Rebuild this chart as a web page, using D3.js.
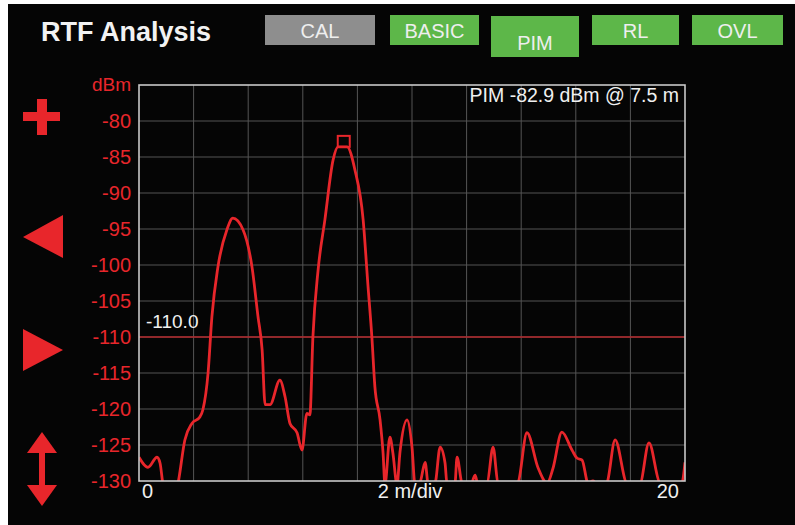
<!DOCTYPE html>
<html>
<head>
<meta charset="utf-8">
<script src="https://cdn.jsdelivr.net/npm/d3@7"></script>
<style>
  body { margin: 0; background: #fff; }
  svg { display: block; font-family: Arial, "Liberation Sans", sans-serif; }
</style>
</head>
<body>
<div id="chart-area"></div>
<script>
// distance to fault (m) and PIM level (dBm)
var distance = [0.00, 0.33, 0.66, 0.77, 0.88, 1.14, 1.43, 1.68, 1.94, 2.23, 2.34, 2.53, 2.67, 2.89, 3.22, 3.44,
  3.81, 4.14, 4.36, 4.51, 4.62, 4.80, 5.16, 5.35, 5.53, 5.79, 5.97, 6.15, 6.26, 6.37, 6.56, 6.81, 7.11, 7.29,
  7.62, 7.91, 8.21, 8.39, 8.53, 8.64, 8.83, 8.94, 9.01, 9.19, 9.30, 9.45, 9.56, 9.82, 10.00, 10.11, 10.29,
  10.48, 10.59, 10.84, 11.03, 11.21, 11.28, 11.57, 11.65, 11.83, 12.12, 12.31, 12.42, 12.75, 12.97, 13.15,
  13.59, 13.88, 14.21, 14.62, 14.95, 15.16, 15.49, 15.86, 16.04, 16.23, 16.45, 16.63, 16.89, 17.14, 17.44,
  17.88, 18.35, 18.68, 19.08, 19.63, 19.89, 20.00];
var level = [-126.7, -128.1, -126.7, -127.5, -130.5, -133, -130.3, -124.3, -122, -121.1, -120.1, -115, -107.2, -100.3, -95.1, -93.5,
  -95.1, -100.3, -107.2, -111.8, -119.4, -119.4, -116, -118.3, -122, -123.3, -125.7, -120.6, -120.8, -110, -100.7, -93.7, -85.4, -83.6,
  -83.6, -86.8, -93.7, -103, -110, -116.9, -121.5, -126.1, -130.5, -123.9, -126.1, -130.5, -126, -121.5, -125.3, -130.5, -130.2,
  -127.4, -130.3, -130.3, -125.3, -127.5, -130.3, -130.5, -126.7, -130.3, -131, -129.2, -130.5, -130.3, -125.3, -130.3,
  -131, -130.3, -123.3, -128.2, -130.3, -128.3, -123.2, -125.7, -126.8, -127.1, -130.3, -130, -131, -130.3, -124.3,
  -130.3, -130.3, -124.7, -130.3, -131, -130.3, -127.4];

var yTicks = [-80, -85, -90, -95, -100, -105, -110, -115, -120, -125, -130];
var xTicks = [0, 2, 4, 6, 8, 10, 12, 14, 16, 18, 20];
var limit = -110.0;
var peak = { distance: 7.5, level: -82.9 };

var buttons = ["CAL", "BASIC", "PIM", "RL", "OVL"];
var buttonOn = [false, true, true, true, true];
var buttonX = [265, 390, 491, 592, 692];
var buttonW = [110, 89, 88, 87, 91];

var width = 795, height = 525;
var red = "#e8262b";

var svg = d3.select("#chart-area")
  .append("svg")
  .attr("width", width)
  .attr("height", height);

// instrument screen
svg.append("rect")
  .attr("x", 8).attr("y", 4)
  .attr("width", width - 8).attr("height", height - 4)
  .attr("fill", "#050505");

svg.append("text")
  .attr("x", 41).attr("y", 41)
  .attr("fill", "#f2f2f2")
  .attr("font-size", 27)
  .attr("font-weight", "bold")
  .text("RTF Analysis");

// mode buttons
var btn = svg.selectAll("g.btn")
  .data(buttons)
  .enter()
  .append("g")
  .attr("class", "btn");

btn.append("rect")
  .attr("x", function(d, i) { return buttonX[i]; })
  .attr("y", function(d) { return d == "PIM" ? 16 : 15; })
  .attr("width", function(d, i) { return buttonW[i]; })
  .attr("height", function(d) { return d == "PIM" ? 41 : 30; })
  .attr("fill", function(d, i) { return buttonOn[i] ? "#5db749" : "#8e8e8e"; });

btn.append("text")
  .attr("x", function(d, i) { return buttonX[i] + buttonW[i] / 2; })
  .attr("y", function(d) { return d == "PIM" ? 50 : 38; })
  .attr("text-anchor", "middle")
  .attr("fill", "#eeeeee")
  .attr("font-size", 20)
  .text(function(d) { return d; });

// plot area
var x = d3.scaleLinear().domain([0, 20]).range([139, 685]);
var y = d3.scaleLinear().domain([-130, -75]).range([481, 85]);

svg.append("clipPath")
  .attr("id", "clip")
  .append("rect")
  .attr("x", 139).attr("y", 85)
  .attr("width", 546).attr("height", 396);

svg.append("g")
  .selectAll("line")
  .data(yTicks.slice(0, -1))
  .enter()
  .append("line")
  .attr("x1", x(0)).attr("x2", x(20))
  .attr("y1", function(d) { return y(d); })
  .attr("y2", function(d) { return y(d); })
  .attr("stroke", "#555555")
  .attr("stroke-width", 1);

svg.append("g")
  .selectAll("line")
  .data(xTicks.slice(1, -1))
  .enter()
  .append("line")
  .attr("x1", function(d) { return x(d); })
  .attr("x2", function(d) { return x(d); })
  .attr("y1", y(-75)).attr("y2", y(-130))
  .attr("stroke", "#555555")
  .attr("stroke-width", 1);

// y labels
svg.append("g")
  .selectAll("text")
  .data(yTicks)
  .enter()
  .append("text")
  .attr("x", 131)
  .attr("y", function(d) { return y(d); })
  .attr("dy", "0.36em")
  .attr("text-anchor", "end")
  .attr("fill", red)
  .attr("font-size", 20)
  .text(function(d) { return d; });

svg.append("text")
  .attr("x", 131).attr("y", 91)
  .attr("text-anchor", "end")
  .attr("fill", red)
  .attr("font-size", 19)
  .text("dBm");

// limit line
svg.append("line")
  .attr("x1", x(0)).attr("x2", x(20))
  .attr("y1", y(limit)).attr("y2", y(limit))
  .attr("stroke", "#b3272b")
  .attr("stroke-width", 1.6);

svg.append("text")
  .attr("x", 146).attr("y", y(limit) - 9)
  .attr("fill", "#f0f0f0")
  .attr("font-size", 19)
  .text(limit.toFixed(1));

// trace
var line = d3.line()
  .x(function(d, i) { return x(distance[i]); })
  .y(function(d) { return y(d); })
  .curve(d3.curveMonotoneX);

svg.append("path")
  .datum(level)
  .attr("clip-path", "url(#clip)")
  .attr("d", line)
  .attr("fill", "none")
  .attr("stroke", red)
  .attr("stroke-width", 2.8)
  .attr("stroke-linejoin", "round");

// peak marker
svg.append("rect")
  .attr("x", x(peak.distance) - 6).attr("y", y(peak.level) - 6)
  .attr("width", 12).attr("height", 11)
  .attr("fill", "none")
  .attr("stroke", red)
  .attr("stroke-width", 2);

svg.append("text")
  .attr("x", 679).attr("y", 102)
  .attr("text-anchor", "end")
  .attr("fill", "#f0f0f0")
  .attr("font-size", 19.5)
  .text("PIM " + peak.level + " dBm @ " + peak.distance + " m");

// frame
svg.append("rect")
  .attr("x", 139).attr("y", 85)
  .attr("width", 546).attr("height", 396)
  .attr("fill", "none")
  .attr("stroke", "#c8c8c8")
  .attr("stroke-width", 1.6);

// x labels
svg.append("text")
  .attr("x", 142).attr("y", 498)
  .attr("fill", "#f0f0f0")
  .attr("font-size", 20)
  .text(xTicks[0]);

svg.append("text")
  .attr("x", 410).attr("y", 498)
  .attr("text-anchor", "middle")
  .attr("fill", "#f0f0f0")
  .attr("font-size", 20)
  .text("2 m/div");

svg.append("text")
  .attr("x", 679).attr("y", 498)
  .attr("text-anchor", "end")
  .attr("fill", "#f0f0f0")
  .attr("font-size", 20)
  .text(xTicks[xTicks.length - 1]);

// side controls
var icons = svg.append("g").attr("fill", red);

icons.append("rect").attr("x", 23).attr("y", 112).attr("width", 37).attr("height", 9);
icons.append("rect").attr("x", 37).attr("y", 99).attr("width", 10).attr("height", 36);

icons.append("path").attr("d", "M23,237L63,215L63,258Z");
icons.append("path").attr("d", "M63,350L23,329L23,371Z");

icons.append("rect").attr("x", 39).attr("y", 448).attr("width", 6).attr("height", 42);
icons.append("path").attr("d", "M42,432L57,453L27,453Z");
icons.append("path").attr("d", "M42,506L57,485L27,485Z");
</script>
</body>
</html>
